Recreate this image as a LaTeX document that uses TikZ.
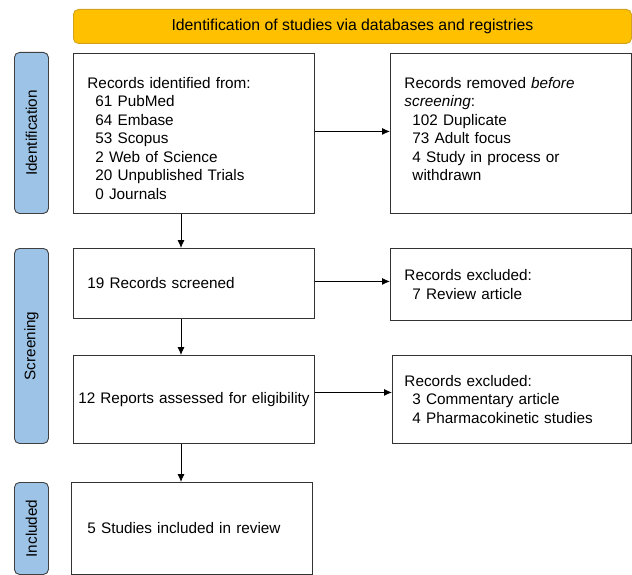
\documentclass[tikz,border=0pt]{standalone}
\usepackage{fontspec}
\setmainfont{Liberation Sans}
\usetikzlibrary{arrows.meta}

\definecolor{hdrfill}{HTML}{FFC000}
\definecolor{hdrline}{HTML}{D4A21A}
\definecolor{sidefill}{HTML}{9DC3E6}
\definecolor{sideline}{HTML}{404040}
\definecolor{boxline}{HTML}{333333}

\begin{document}
\begin{tikzpicture}[
  x=1pt, y=-1pt,
  every node/.style={
    font=\fontsize{15.3pt}{18.5pt}\selectfont,
    anchor=north west},
  box/.style={
    draw=boxline, line width=0.9pt,
    inner xsep=14pt, inner ysep=0pt,
    align=left},
  phase/.style={
    draw=sideline, fill=sidefill, line width=0.9pt,
    rounded corners=5pt, minimum width=34pt, inner sep=0pt},
  arr/.style={
    draw=black, line width=0.9pt,
    -{Latex[length=8pt,width=7pt]}}
  ]
    \useasboundingbox (0,0) rectangle (632,575);
    % header bar
    \node[draw=hdrline, fill=hdrfill, line width=0.9pt, rounded corners=5pt,
          minimum width=558pt, minimum height=34pt, inner sep=0pt,
          font=\fontsize{15.8pt}{18.5pt}\selectfont]
          (head) at (73,9) {Identification of studies via databases and registries};
    % phase labels
    \node[phase, minimum height=161pt] (pid) at (14,52) {\rotatebox{90}{Identification}};
    \node[phase, minimum height=195pt] (pscr) at (14,248) {\rotatebox{90}{Screening}};
    \node[phase, minimum height=92pt] (pinc) at (14,482) {\rotatebox{90}{Included}};
    % boxes
    \node[box, text width=213pt, minimum height=160pt] (b1) at (73,53) {%
      \rule{0pt}{21pt}Records identified from:\\
      \hspace*{8pt}61 PubMed\\
      \hspace*{8pt}64 Embase\\
      \hspace*{8pt}53 Scopus\\
      \hspace*{8pt}2 Web of Science\\
      \hspace*{8pt}20 Unpublished Trials\\
      \hspace*{8pt}0 Journals};
    \node[box, text width=213pt, minimum height=160pt] (b2) at (390,53) {%
      \rule{0pt}{21pt}Records removed \emph{before}\\
      \emph{screening}:\\
      \hspace*{8pt}102 Duplicate\\
      \hspace*{8pt}73 Adult focus\\
      \hspace*{8pt}4 Study in process or\\
      \hspace*{8pt}withdrawn\\
      \mbox{}};
    \node[box, text width=213pt, minimum height=70pt] (b3) at (73,248) {19 Records screened};
    \node[box, text width=213pt, minimum height=72pt] (b4) at (390,248) {%
      Records excluded:\\
      \hspace*{8pt}7 Review article};
    \node[box, inner xsep=3pt, text width=235pt, minimum height=88pt, align=center]
          (b5) at (73,355) {12 Reports assessed for eligibility};
    \node[box, inner xsep=12pt, text width=215pt, minimum height=88pt] (b6) at (392,355) {%
      Records excluded:\\
      \hspace*{8pt}3 Commentary article\\
      \hspace*{8pt}4 Pharmacokinetic studies};
    \node[box, inner xsep=16pt, text width=209pt, minimum height=92pt] (b7) at (71,482) {5 Studies included in review};
    % connectors
    \coordinate (spine) at (181,0);
    \draw[arr] ([yshift=2pt]b1.east) -- ([yshift=2pt]b2.west);
    \draw[arr] ([yshift=2pt]b3.east) -- ([yshift=2pt]b3.east -| b4.west);
    \draw[arr] ([yshift=7pt]b5.east) -- ([yshift=7pt]b5.east -| b6.west);
    \draw[arr] (b1.south -| spine) -- (b3.north -| spine);
    \draw[arr] (b3.south -| spine) -- (b5.north -| spine);
    \draw[arr] (b5.south -| spine) -- (b7.north -| spine);
\end{tikzpicture}
\end{document}
